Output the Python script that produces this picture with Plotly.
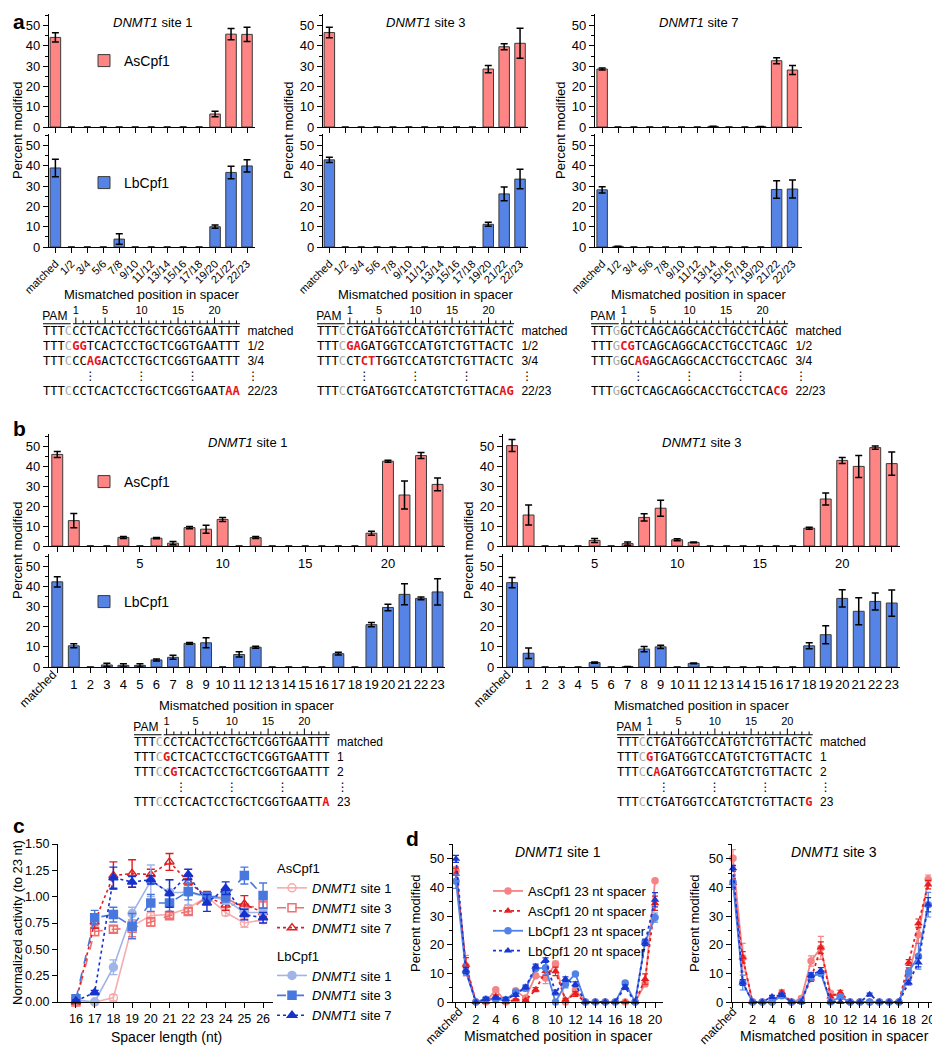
import plotly.graph_objects as go

# The page body adds an 8 px margin; the figure is sized so that it ends exactly at 940x1050.
OFF = 8
WF, HF = 940 - OFF, 1050 - OFF
FONT = "Arial, Liberation Sans, sans-serif"
MONO = "DejaVu Sans Mono, monospace"
AS_COL = "#FF8484"
LB_COL = "#5584E6"
RED = "#E8141B"
GRAY = "#A8A8A8"

# ---------------- data: panel a ----------------
A_CATS = ["matched", "1/2", "3/4", "5/6", "7/8", "9/10", "11/12", "13/14",
          "15/16", "17/18", "19/20", "21/22", "22/23"]
A1_AS = [44.2, 0, 0, 0, 0, 0, 0, 0, 0, 0, 6.4, 45.8, 45.7]
A1_AS_ERR = [2.3, 0, 0, 0, 0, 0, 0, 0, 0, 0, 1.4, 2.8, 3.5]
A1_LB = [39.0, 0, 0, 0, 3.9, 0, 0, 0, 0, 0, 10.0, 36.8, 40.0]
A1_LB_ERR = [4.3, 0, 0, 0, 2.6, 0, 0, 0, 0, 0, 0.8, 3.1, 3.0]
A3_AS = [46.6, 0, 0, 0, 0, 0, 0, 0, 0, 0, 28.6, 39.6, 41.3]
A3_AS_ERR = [2.6, 0, 0, 0, 0, 0, 0, 0, 0, 0, 1.8, 1.5, 7.4]
A3_LB = [43.0, 0, 0, 0, 0, 0, 0, 0, 0, 0, 11.2, 26.2, 33.5]
A3_LB_ERR = [1.3, 0, 0, 0, 0, 0, 0, 0, 0, 0, 1.0, 3.4, 4.8]
A7_AS = [28.6, 0, 0, 0, 0, 0, 0, 0.3, 0, 0, 0.2, 32.7, 28.1]
A7_AS_ERR = [0.5, 0, 0, 0, 0, 0, 0, 0.1, 0, 0, 0.1, 1.5, 2.2]
A7_LB = [28.2, 0.3, 0, 0, 0, 0, 0, 0, 0, 0, 0, 28.4, 28.6]
A7_LB_ERR = [1.5, 0.1, 0, 0, 0, 0, 0, 0, 0, 0, 0, 4.3, 4.4]

# ---------------- data: panel b ----------------
B_CATS = ["matched"] + [str(i) for i in range(1, 24)]
B_TOP_LABELS = ["5", "10", "15", "20"]
B1_AS = [45.8, 12.7, 0, 0, 4.3, 0, 3.9, 1.4, 9.2, 8.4, 13.3, 0, 4.2,
         0, 0, 0, 0, 0, 0, 6.4, 42.4, 25.5, 45.2, 30.8]
B1_AS_ERR = [1.5, 3.6, 0, 0, 0.5, 0, 0.3, 0.8, 0.6, 2.0, 1.0, 0, 0.5,
             0, 0, 0, 0, 0, 0, 1.0, 0.5, 7.0, 1.5, 3.2]
B1_LB = [42.2, 10.5, 0, 1.0, 0.8, 0.8, 3.5, 4.8, 11.7, 12.0, 0, 6.2, 9.8,
         0, 0, 0, 0, 6.6, 0, 21.0, 29.5, 36.0, 34.0, 37.2]
B1_LB_ERR = [2.5, 1.0, 0, 0.8, 0.8, 0.8, 0.5, 1.0, 0.4, 2.5, 0, 1.3, 0.5,
             0, 0, 0, 0, 0.7, 0, 1.0, 1.6, 5.2, 0.7, 6.5]
B3_AS = [50.2, 15.5, 0, 0, 0, 2.8, 0, 1.2, 14.3, 18.9, 3.1, 1.8, 0,
         0, 0, 0, 0, 0, 8.9, 23.5, 42.8, 39.8, 49.2, 41.2]
B3_AS_ERR = [3.0, 5.0, 0, 0, 0, 1.0, 0, 0.8, 1.8, 4.0, 0.5, 0.2, 0,
             0, 0, 0, 0, 0, 0.5, 3.0, 1.5, 5.5, 0.8, 5.8]
B3_LB = [41.8, 6.8, 0, 0, 0, 2.2, 0, 0.2, 8.9, 10.0, 0, 1.8, 0,
         0, 0, 0, 0, 0, 10.5, 16.0, 34.0, 27.6, 32.5, 31.7]
B3_LB_ERR = [2.5, 2.6, 0, 0, 0, 0.3, 0, 0.1, 1.3, 0.8, 0, 0.2, 0,
             0, 0, 0, 0, 0, 1.5, 4.5, 4.3, 6.7, 4.2, 6.5]

# ---------------- data: sequences ----------------
A1_SEQS = ["TTTCCCTCACTCCTGCTCGGTGAATTT", "TTTCGGTCACTCCTGCTCGGTGAATTT",
           "TTTCCCAGACTCCTGCTCGGTGAATTT", "TTTCCCTCACTCCTGCTCGGTGAATAA"]
A3_SEQS = ["TTTCCTGATGGTCCATGTCTGTTACTC", "TTTCGAGATGGTCCATGTCTGTTACTC",
           "TTTCCTCTTGGTCCATGTCTGTTACTC", "TTTCCTGATGGTCCATGTCTGTTACAG"]
A7_SEQS = ["TTTGGCTCAGCAGGCACCTGCCTCAGC", "TTTGCGTCAGCAGGCACCTGCCTCAGC",
           "TTTGGCAGAGCAGGCACCTGCCTCAGC", "TTTGGCTCAGCAGGCACCTGCCTCACG"]
A_SEQ_LABELS = ["matched", "1/2", "3/4", "22/23"]
B1_SEQS = ["TTTCCCTCACTCCTGCTCGGTGAATTT", "TTTCGCTCACTCCTGCTCGGTGAATTT",
           "TTTCCGTCACTCCTGCTCGGTGAATTT", "TTTCCCTCACTCCTGCTCGGTGAATTA"]
B3_SEQS = ["TTTCCTGATGGTCCATGTCTGTTACTC", "TTTCGTGATGGTCCATGTCTGTTACTC",
           "TTTCCAGATGGTCCATGTCTGTTACTC", "TTTCCTGATGGTCCATGTCTGTTACTG"]
B_SEQ_LABELS = ["matched", "1", "2", "23"]
RULER_MARKS = [1, 5, 10, 15, 20]

# ---------------- data: panel c ----------------
C_LEN = [16, 17, 18, 19, 20, 21, 22, 23, 24, 25, 26]
C_AS1 = [0.0, 0.0, 0.04, 0.72, 0.82, 0.83, 0.89, 1.0, 0.85, 0.75, 0.78]
C_AS1_ERR = [0.01, 0.01, 0.03, 0.05, 0.03, 0.03, 0.03, 0.03, 0.03, 0.04, 0.03]
C_AS3 = [0.0, 0.67, 0.69, 0.70, 0.76, 0.82, 0.86, 1.0, 0.99, 0.89, 0.92]
C_AS3_ERR = [0.01, 0.04, 0.03, 0.08, 0.04, 0.03, 0.03, 0.03, 0.04, 0.04, 0.03]
C_AS7 = [0.0, 0.76, 1.20, 1.22, 1.21, 1.33, 1.14, 1.0, 0.92, 0.93, 0.85]
C_AS7_ERR = [0.01, 0.06, 0.13, 0.13, 0.05, 0.08, 0.03, 0.05, 0.05, 0.08, 0.04]
C_LB1 = [0.02, 0.0, 0.33, 0.84, 1.15, 1.04, 1.04, 1.0, 0.97, 0.85, 0.85]
C_LB1_ERR = [0.01, 0.01, 0.07, 0.06, 0.15, 0.12, 0.12, 0.03, 0.04, 0.04, 0.03]
C_LB3 = [0.03, 0.80, 0.83, 0.72, 0.94, 0.94, 1.05, 1.0, 1.0, 1.20, 1.01]
C_LB3_ERR = [0.02, 0.07, 0.07, 0.12, 0.08, 0.08, 0.08, 0.03, 0.05, 0.08, 0.12]
C_LB7 = [0.01, 0.09, 1.18, 1.14, 1.16, 1.03, 1.21, 0.94, 1.08, 0.83, 0.80]
C_LB7_ERR = [0.01, 0.02, 0.10, 0.05, 0.04, 0.13, 0.05, 0.08, 0.06, 0.05, 0.05]
C_YTICKS = [0, 0.25, 0.5, 0.75, 1.0, 1.25, 1.5]

# ---------------- data: panel d ----------------
D_POS = list(range(21))
D_TICK_LABELS = ["", ""] + [str(i) if i % 2 == 0 else "" for i in range(2, 21)]
D1_AS23, D1_AS23_ERR = B1_AS[:21], B1_AS_ERR[:21]
D1_LB23, D1_LB23_ERR = B1_LB[:21], B1_LB_ERR[:21]
D3_AS23, D3_AS23_ERR = B3_AS[:21], B3_AS_ERR[:21]
D3_LB23, D3_LB23_ERR = B3_LB[:21], B3_LB_ERR[:21]
D1_AS20 = [44.8, 13.0, 0, 0, 2.0, 0, 0.8, 0.6, 4.3, 10.8, 10.7, 0.8, 2.8,
           0, 0, 0, 0, 0, 0, 8.0, 34.5]
D1_AS20_ERR = [2.0, 2.5, 0, 0, 0.5, 0, 0.3, 0.3, 0.7, 1.5, 1.5, 0.5, 0.8,
               0, 0, 0, 0, 0, 0, 1.8, 2.5]
D1_LB20 = [50.0, 11.0, 0, 1.0, 1.5, 1.0, 2.5, 5.2, 12.4, 14.6, 3.3, 8.0, 6.2,
           0, 0, 0, 0, 5.2, 0, 20.7, 35.7]
D1_LB20_ERR = [1.2, 1.0, 0, 0.5, 0.5, 0.5, 0.5, 0.7, 0.8, 0.8, 0.8, 0.8, 0.8,
               0, 0, 0, 0, 0.8, 0, 1.0, 2.5]
D3_AS20 = [41.5, 15.6, 0, 0, 0, 3.4, 0, 0, 8.2, 19.0, 1.9, 3.3, 0,
           0, 0, 0, 0, 0, 13.8, 27.5, 41.0]
D3_AS20_ERR = [1.5, 2.0, 0, 0, 0, 0.8, 0, 0, 1.0, 2.0, 0.5, 0.8, 0,
               0, 0, 0, 0, 0, 1.0, 1.5, 1.5]
D3_LB20 = [46.7, 6.8, 0, 0, 1.8, 2.5, 0, 0, 9.4, 11.0, 0, 0, 0,
           0, 2.6, 0, 0, 0, 6.8, 13.8, 34.0]
D3_LB20_ERR = [1.0, 1.0, 0, 0, 0.5, 0.5, 0, 0, 0.8, 1.0, 0, 0, 0,
               0, 0.5, 0, 0, 0, 0.8, 1.5, 2.5]
D_NAMES = ["AsCpf1 23 nt spacer", "AsCpf1 20 nt spacer",
           "LbCpf1 23 nt spacer", "LbCpf1 20 nt spacer"]

# ======================================================================
fig = go.Figure()
layout_axes = {}
counter = [0]


def fx(x):
    return (x - OFF) / WF


def fy(y):
    return 1 - (y - OFF) / HF


def add_axes(xd, yd, xopt, yopt):
    counter[0] += 1
    n = counter[0]
    s = "" if n == 1 else str(n)
    xo, yo = dict(xopt), dict(yopt)
    xo["domain"] = [max(0, fx(xd[0])), min(1, fx(xd[1]))]
    yo["domain"] = [max(0, fy(yd[1])), min(1, fy(yd[0]))]
    xo["anchor"] = "y" + s
    yo["anchor"] = "x" + s
    xo["automargin"] = False
    yo["automargin"] = False
    layout_axes["xaxis" + s] = xo
    layout_axes["yaxis" + s] = yo
    return "x" + s, "y" + s


def base_axis(**kw):
    d = dict(showline=True, linecolor="black", linewidth=1.3, ticks="outside",
             ticklen=5, tickwidth=1.3, tickcolor="black", showgrid=False,
             zeroline=False, fixedrange=True,
             tickfont=dict(family=FONT, size=13, color="black"))
    d.update(kw)
    return d


MINOR = dict(ticks="outside", ticklen=3, tickwidth=1.2, tickcolor="black",
             dtick=5, tick0=0, showgrid=False)


def bar_yaxis():
    return base_axis(range=[0, 56], tickmode="linear", tick0=0, dtick=10, minor=MINOR)


def add_bars(xa, ya, cats, vals, errs, color, name, legend=None):
    shown_err = [e if v > 0 else None for v, e in zip(vals, errs)]
    outline = [1 if v > 0 else 0 for v in vals]
    fig.add_trace(go.Bar(
        x=cats, y=vals, xaxis=xa, yaxis=ya, width=0.66, name=name,
        marker=dict(color=color, line=dict(color="#3a3a3a", width=outline)),
        error_y=dict(type="data", array=shown_err, color="black", thickness=1.5, width=3.5),
        showlegend=legend is not None, legend=legend or "legend", hoverinfo="skip"))


ann = []


def text(x, y, s, size=13, angle=0, xanchor="center", yanchor="middle"):
    ann.append(dict(x=fx(x), y=fy(y), xref="paper", yref="paper", text=s,
                    showarrow=False, textangle=angle, xanchor=xanchor, yanchor=yanchor,
                    font=dict(family=FONT, size=size, color="black")))


# ---------------- panel a ----------------
a_sites = [
    ((49, 255), [-0.4, 12.5], A1_AS, A1_AS_ERR, A1_LB, A1_LB_ERR, "site 1", True),
    ((323, 528), [-0.4, 12.5], A3_AS, A3_AS_ERR, A3_LB, A3_LB_ERR, "site 3", False),
    ((595, 802), [-0.45, 12.6], A7_AS, A7_AS_ERR, A7_LB, A7_LB_ERR, "site 7", False),
]
for (xd, xr, asv, ase, lbv, lbe, site, leg) in a_sites:
    xa, ya = add_axes(xd, (13.5, 127),
                      base_axis(type="category", range=xr, tickmode="array",
                                tickvals=A_CATS, showticklabels=False),
                      bar_yaxis())
    add_bars(xa, ya, A_CATS, asv, ase, AS_COL, "AsCpf1", "legend" if leg else None)
    xa, ya = add_axes(xd, (133.5, 247),
                      base_axis(type="category", range=xr, tickmode="array",
                                tickvals=A_CATS, ticktext=A_CATS, tickangle=-45,
                                tickfont=dict(family=FONT, size=11, color="black")),
                      bar_yaxis())
    add_bars(xa, ya, A_CATS, lbv, lbe, LB_COL, "LbCpf1", "legend2" if leg else None)
    cx = (xd[0] + xd[1]) / 2
    text(cx, 23, "<i>DNMT1</i> " + site, 13)
    text(cx, 294, "Mismatched position in spacer", 13)
    text(max(xd[0] - 35, 17), 130, "Percent modified", 13, angle=-90)

# ---------------- panel b ----------------
b_top_text = [c if c in B_TOP_LABELS else "" for c in B_CATS]
b_bot_text = [""] + B_CATS[1:]
b_sites = [
    ((49, 445), [-0.5, 23.45], B1_AS, B1_AS_ERR, B1_LB, B1_LB_ERR, "site 1", True, 38),
    ((503, 900), [-0.55, 23.5], B3_AS, B3_AS_ERR, B3_LB, B3_LB_ERR, "site 3", False, 492),
]
for (xd, xr, asv, ase, lbv, lbe, site, leg, mx) in b_sites:
    xa, ya = add_axes(xd, (434, 546),
                      base_axis(type="category", range=xr, tickmode="array",
                                tickvals=B_CATS, ticktext=b_top_text),
                      bar_yaxis())
    add_bars(xa, ya, B_CATS, asv, ase, AS_COL, "AsCpf1", "legend3" if leg else None)
    xa, ya = add_axes(xd, (554, 667),
                      base_axis(type="category", range=xr, tickmode="array",
                                tickvals=B_CATS, ticktext=b_bot_text),
                      bar_yaxis())
    add_bars(xa, ya, B_CATS, lbv, lbe, LB_COL, "LbCpf1", "legend4" if leg else None)
    cx = (xd[0] + xd[1]) / 2
    text(cx, 442, "<i>DNMT1</i> " + site, 13)
    text(cx, 705, "Mismatched position in spacer", 13)
    text(max(xd[0] - 35, 17), 550, "Percent modified", 13, angle=-90)
    text(mx, 689, "matched", 12, angle=-45)


# ---------------- sequence blocks ----------------
def row_html(seq, ref):
    out = []
    for i, ch in enumerate(seq):
        if i == 3:
            out.append("<span style='color:%s'>%s</span>" % (GRAY, ch))
        elif ch != ref[i]:
            out.append("<span style='color:%s'><b>%s</b></span>" % (RED, ch))
        else:
            out.append(ch)
    return "".join(out)


def seq_block(x0, y_m, seqs, labels, cw=7.3, rh=15.0, r_ruler=-0.55, r_num=-1.38, r_pam=-1.0):
    ncols = 40
    xa, ya = add_axes((x0 - 2 * cw, x0 + ncols * cw), (y_m - 2.5 * rh, y_m + 5 * rh),
                      dict(visible=False, range=[-2.5, ncols - 0.5], fixedrange=True),
                      dict(visible=False, range=[5, -2.5], fixedrange=True))
    ref = seqs[0]
    n = len(ref)
    rows = [0, 1, 2, 4]
    common = dict(xaxis=xa, yaxis=ya, showlegend=False, hoverinfo="skip", cliponaxis=False)
    mono_size = cw / 0.602
    fig.add_trace(go.Scatter(x=[-0.5] * len(rows), y=rows, mode="text",
                             text=[row_html(s, ref) for s in seqs],
                             textposition="middle right",
                             textfont=dict(family=MONO, size=mono_size, color="black"), **common))
    fig.add_trace(go.Scatter(x=[n + 0.5] * len(rows), y=rows, mode="text", text=labels,
                             textposition="middle right",
                             textfont=dict(family=FONT, size=12, color="black"), **common))
    # vertical ellipses
    dcols = [6, 13, 20, n + 1.3]
    fig.add_trace(go.Scatter(x=dcols, y=[3] * len(dcols), mode="text", text=["\u22ee"] * len(dcols),
                             textposition="middle center",
                             textfont=dict(family="DejaVu Sans", size=12, color="black"), **common))
    # ruler
    xs, ys = [3.6, n - 0.5], [r_ruler, r_ruler]
    for k in range(n - 4):
        pos = k + 1
        idx = 3 + pos
        h = 0.42 if pos in RULER_MARKS else 0.22
        xs += [None, idx, idx]
        ys += [None, r_ruler, r_ruler - h]
    xs += [None, -0.5, 3.3]
    ys += [None, r_ruler, r_ruler]
    fig.add_trace(go.Scatter(x=xs, y=ys, mode="lines", line=dict(color="black", width=1), **common))
    fig.add_trace(go.Scatter(x=[3 + p for p in RULER_MARKS], y=[r_num] * len(RULER_MARKS),
                             mode="text", text=[str(p) for p in RULER_MARKS],
                             textposition="middle center",
                             textfont=dict(family=FONT, size=11, color="black"), **common))
    fig.add_trace(go.Scatter(x=[-0.6], y=[r_pam], mode="text", text=["PAM"],
                             textposition="middle right",
                             textfont=dict(family=FONT, size=12, color="black"), **common))


seq_block(43, 332, A1_SEQS, A_SEQ_LABELS)
seq_block(317, 332, A3_SEQS, A_SEQ_LABELS)
seq_block(591, 332, A7_SEQS, A_SEQ_LABELS)
seq_block(134, 743, B1_SEQS, B_SEQ_LABELS, cw=7.25)
seq_block(617, 743, B3_SEQS, B_SEQ_LABELS, cw=7.25)

# ---------------- panel c ----------------
C_TICKFONT = dict(family=FONT, size=12.5, color="black")
xa, ya = add_axes((58, 273), (844, 1002),
                  base_axis(range=[15.04, 26.53], tickmode="array", tickvals=C_LEN,
                            tickfont=C_TICKFONT),
                  base_axis(range=[0, 1.5], tickmode="array", tickvals=C_YTICKS, tickformat=".2f",
                            tickfont=C_TICKFONT))
c_series = [
    (C_AS1, C_AS1_ERR, "rgb(246,172,172)", "solid", "circle-open", "as", "AsCpf1"),
    (C_AS3, C_AS3_ERR, "rgb(240,112,112)", "dash", "square-open", "as", None),
    (C_AS7, C_AS7_ERR, "rgb(222,30,34)", "dot", "triangle-up-open", "as", None),
    (C_LB1, C_LB1_ERR, "rgb(160,180,232)", "solid", "circle", "lb", "LbCpf1"),
    (C_LB3, C_LB3_ERR, "rgb(72,120,222)", "dash", "square", "lb", None),
    (C_LB7, C_LB7_ERR, "rgb(22,50,205)", "dot", "triangle-up", "lb", None),
]
c_names = ["<i>DNMT1</i> site 1", "<i>DNMT1</i> site 3", "<i>DNMT1</i> site 7"] * 2
for (vals, errs, col, dash, sym, grp, gtitle), nm in zip(c_series, c_names):
    kw = {}
    if gtitle:
        kw["legendgrouptitle"] = dict(text=gtitle, font=dict(family=FONT, size=13, color="black"))
    fig.add_trace(go.Scatter(
        x=C_LEN, y=vals, xaxis=xa, yaxis=ya, mode="lines+markers", name=nm,
        line=dict(color=col, width=1.6, dash=dash),
        marker=dict(symbol=sym, size=8, color=col, line=dict(color=col, width=1.5)),
        error_y=dict(type="data", array=errs, color=col, thickness=1.4, width=4),
        legend="legend5", legendgroup=grp, hoverinfo="skip", cliponaxis=False, **kw))
text(166, 1037, "Spacer length (nt)", 14)
text(17, 923, "Normalized activity (to 23 nt)", 13, angle=-90)

# ---------------- panel d ----------------
d_styles = [
    ("rgb(246,132,132)", "solid", "circle"),
    ("rgb(232,30,30)", "dot", "triangle-up"),
    ("rgb(82,130,230)", "solid", "circle"),
    ("rgb(25,55,210)", "dot", "triangle-up"),
]
d_sites = [
    ((453, 663), [-0.3, 20.8], [D1_AS23, D1_AS20, D1_LB23, D1_LB20],
     [D1_AS23_ERR, D1_AS20_ERR, D1_LB23_ERR, D1_LB20_ERR], "site 1", True, 444),
    ((732, 936), [-0.1, 20.8], [D3_AS23, D3_AS20, D3_LB23, D3_LB20],
     [D3_AS23_ERR, D3_AS20_ERR, D3_LB23_ERR, D3_LB20_ERR], "site 3", False, 718),
]
for (xd, xr, series, errs, site, leg, mx) in d_sites:
    xa, ya = add_axes(xd, (844, 1002),
                      base_axis(range=xr, tickmode="array", tickvals=D_POS, ticktext=D_TICK_LABELS),
                      base_axis(range=[0, 55.2], tickmode="linear", tick0=0, dtick=10, minor=MINOR))
    for vals, err, (col, dash, sym), nm in zip(series, errs, d_styles, D_NAMES):
        fig.add_trace(go.Scatter(
            x=D_POS, y=vals, xaxis=xa, yaxis=ya, mode="lines+markers", name=nm,
            line=dict(color=col, width=1.8, dash=dash),
            marker=dict(symbol=sym, size=7.5, color=col),
            error_y=dict(type="data", array=err, color=col, thickness=1.2, width=3),
            showlegend=leg, legend="legend6", hoverinfo="skip", cliponaxis=False))
    cx = (xd[0] + xd[1]) / 2
    text(cx, 852, "<i>DNMT1</i> " + site, 14)
    text(cx, 1036, "Mismatched position in spacer", 14)
    text(xd[0] - 38, 923, "Percent modified", 13, angle=-90)
    text(mx, 1026, "matched", 12, angle=-45)

# panel letters
text(11, 21, "<b>a</b>", 21, xanchor="left")
text(11, 428, "<b>b</b>", 21, xanchor="left")
text(11, 825, "<b>c</b>", 21, xanchor="left")
text(404, 838, "<b>d</b>", 21, xanchor="left")


def leg(x, y, yanchor="middle", size=14, **kw):
    d = dict(x=fx(x), y=fy(y), xref="paper", yref="paper", xanchor="left", yanchor=yanchor,
             bgcolor="rgba(0,0,0,0)", borderwidth=0,
             font=dict(family=FONT, size=size, color="black"))
    d.update(kw)
    return d


fig.update_layout(
    template="none",
    width=WF, height=HF, margin=dict(l=0, r=0, t=0, b=0, pad=0), autosize=False,
    paper_bgcolor="white", plot_bgcolor="white",
    font=dict(family=FONT, color="black"), annotations=ann,
    legend=leg(84, 61), legend2=leg(84, 183), legend3=leg(84, 482), legend4=leg(84, 602),
    legend5=leg(272, 853, "top", 13, traceorder="grouped", tracegroupgap=8),
    legend6=leg(488, 876, "top", 13),
    **layout_axes)

fig.write_html("out.html")
